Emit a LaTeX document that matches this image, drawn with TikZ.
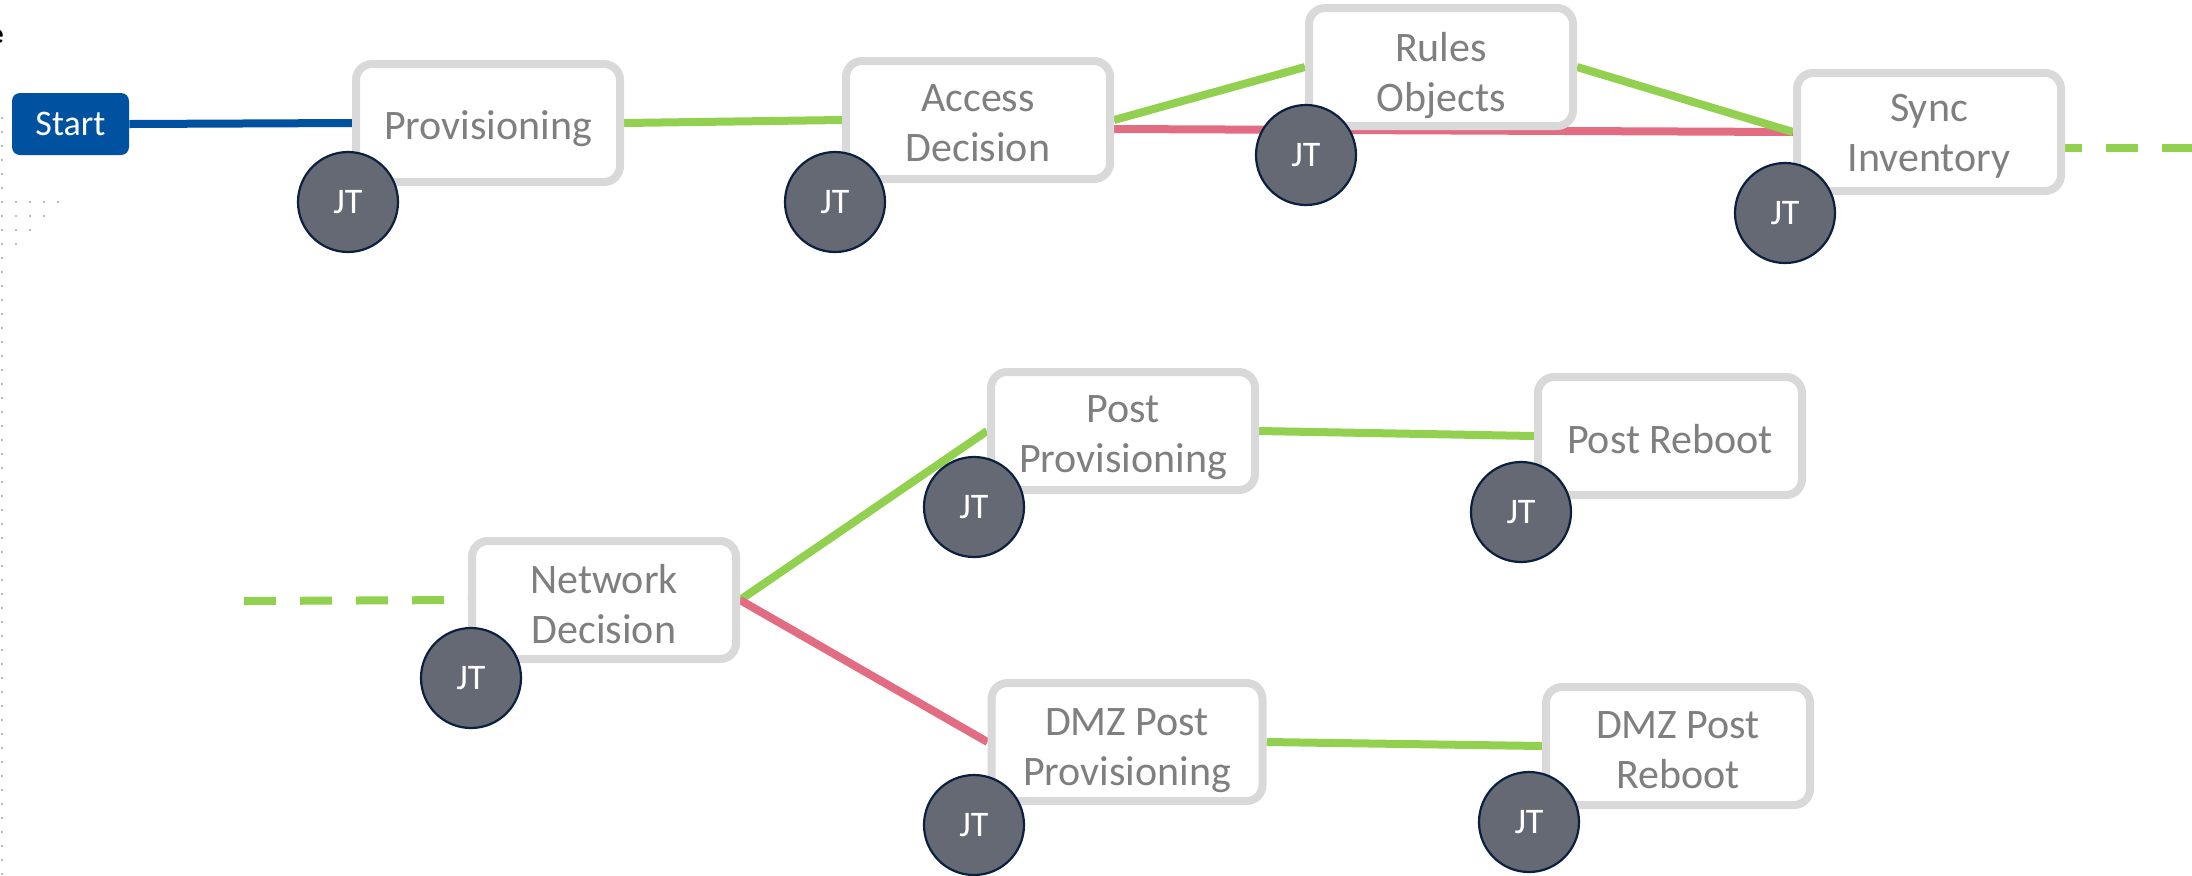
\documentclass[tikz,border=0pt]{standalone}
\usepackage{fontspec}
\setmainfont{Carlito}
\usetikzlibrary{backgrounds}
\definecolor{boxborder}{HTML}{D9D9D9}
\definecolor{boxtext}{HTML}{7F7F7F}
\definecolor{lgreen}{HTML}{92D050}
\definecolor{lred}{HTML}{E26D82}
\definecolor{sblue}{HTML}{0052A0}
\definecolor{jtfill}{HTML}{646973}
\definecolor{jtborder}{HTML}{0B1F3F}
\definecolor{dotgray}{HTML}{A6A6A6}
\newcommand\boxlift[1]{\rule{0pt}{#1}}
\begin{document}
\begin{tikzpicture}[x=0.5pt,y=-0.5pt,
 stepbox/.style={draw=boxborder, line width=4pt, fill=white, rounded corners=8pt,
   minimum width=132pt, minimum height=59pt, text=boxtext,
   font=\fontsize{21}{25}\selectfont, align=center, inner sep=0pt},
 jt/.style={circle, fill=jtfill, draw=jtborder, line width=1.1pt, minimum size=50pt,
   inner sep=0pt, text=white, font=\fontsize{18}{20}\selectfont},
 startbox/.style={fill=sblue, rounded corners=4pt, minimum width=58.5pt, minimum height=31pt,
   text=white, font=\fontsize{18}{20}\selectfont, inner sep=0pt},
 gline/.style={draw=lgreen, line width=4pt},
 rline/.style={draw=lred, line width=4pt},
 bline/.style={draw=sblue, line width=4pt},
 dline/.style={draw=lgreen, line width=4pt, dash pattern=on 16pt off 12pt},
 dotmark/.style={fill=dotgray}
]
\useasboundingbox (0,0) rectangle (2192,875);

% step boxes
\node[startbox] (start) at (70.5,124) {Start};
\node[stepbox] (prov) at (488,123) {\boxlift{20pt}Provisioning};
\node[stepbox] (acc) at (978,120) {\boxlift{16.5pt}Access\\Decision};
\node[stepbox] (rules) at (1441,67) {\boxlift{23.5pt}Rules\\Objects};
\node[stepbox] (sync) at (1929,132) {\boxlift{17.5pt}Sync\\Inventory};
\node[stepbox] (net) at (604,600) {\boxlift{18.7pt}Network\\Decision};
\node[stepbox] (pp) at (1123,431) {\boxlift{20.5pt}Post\\Provisioning};
\node[stepbox] (pr) at (1670,436) {\boxlift{18pt}Post Reboot};
\node[stepbox, minimum width=135.5pt] (dpp) at (1127,742) {\boxlift{22.5pt}DMZ Post\\Provisioning};
\node[stepbox] (dpr) at (1678,746) {\boxlift{17.5pt}DMZ Post\\Reboot};

% free ends of the dashed connectors
\coordinate (syncend) at (2192,148);
\coordinate (netstart) at (244,601);

% partial text at the top-left edge
\node[anchor=base east, inner sep=0pt, text=black, font=\bfseries\fontsize{14}{16}\selectfont] (etext) at (4,43) {e};

% connectors (behind the boxes)
\begin{scope}[on background layer]
\fill[white] (0,0) rectangle (2192,875);
\foreach \i in {0,...,54} \fill[dotmark] (2,{118+14*\i}) circle (0.6pt);
\foreach \r/\n in {0/4,1/3,2/2,3/1}
  \foreach \c in {1,...,\n} \fill[dotmark] ({2+14*\c},{202+14*\r}) circle (0.6pt);
\draw[bline] (start.east) -- (prov.west);
\draw[gline] (prov.east) -- (acc.west);
\draw[gline] (acc.east) -- (rules.west);
\draw[rline] ([yshift=-4.5pt]acc.east) -- (sync.west);
\draw[gline] (rules.east) -- (sync.west);
\draw[dline, dash phase=7.5pt] ([yshift=-8pt]sync.east) -- (syncend);
\draw[dline] (netstart) -- (net.west);
\draw[gline] (net.east) -- (pp.west);
\draw[rline] (net.east) -- (dpp.west);
\draw[gline] (pp.east) -- (pr.west);
\draw[gline] (dpp.east) -- (dpr.west);
\end{scope}

% owner badges
\node[jt] (jt1) at (348,202) {JT};
\node[jt] (jt2) at (835,202) {JT};
\node[jt] (jt3) at (1306,155) {JT};
\node[jt] (jt4) at (1785,213) {JT};
\node[jt] (jt5) at (471,678) {JT};
\node[jt] (jt6) at (974,507) {JT};
\node[jt] (jt7) at (1521,512) {JT};
\node[jt] (jt8) at (974,825) {JT};
\node[jt] (jt9) at (1529,822) {JT};
\end{tikzpicture}
\end{document}
